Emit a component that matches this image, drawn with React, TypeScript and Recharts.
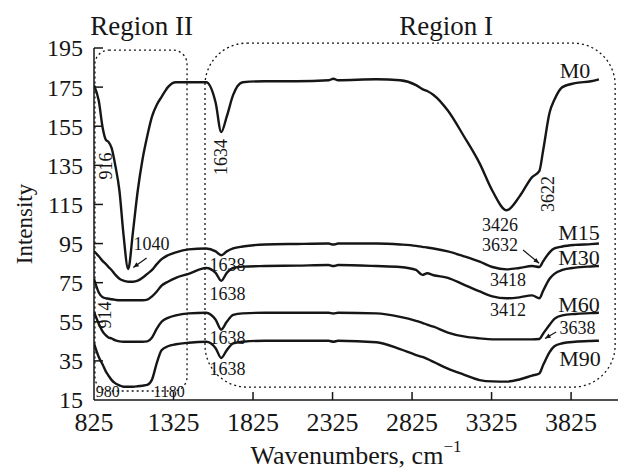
import React from 'react';
import {
  LineChart,
  Line,
  XAxis,
  YAxis,
  ReferenceArea,
  ReferenceDot,
  ReferenceLine,
  Label,
} from 'recharts';

const FONT = '"Liberation Serif", "Times New Roman", serif';
const INK = '#161616';

// wavenumber grid shared by all spectra (cm-1)
const wavenumbers = [
  825, 855, 880, 900, 916, 935, 960, 985, 1010, 1040, 1070, 1100, 1130, 1160, 1190, 1220, 1250,
  1290, 1340, 1420, 1530, 1590, 1625, 1660, 1700, 1760, 1900, 2100, 2300, 2330, 2360, 2600, 2750,
  2850, 2890, 2920, 2960, 3050, 3150, 3250, 3330, 3420, 3500, 3580, 3625, 3650, 3690, 3720, 3770,
  3850, 3950, 4000,
];

const m0 = [
  176, 168, 154, 148, 147, 144, 134.5, 122, 100, 82, 101, 122, 138, 150, 160, 166, 170,
  175, 177.5, 177.5, 177.5, 167, 152, 160, 171, 177.5, 178, 178, 178.5, 179.3, 178.5, 179, 178.5,
  176, 174, 173, 171, 163, 150, 136, 122, 112, 119, 129, 132, 143, 162, 168.5, 175,
  177, 178, 179,
];

const m15 = [
  91, 88.5, 86, 84.5, 83, 81.5, 79, 77, 76, 75.5, 75.5, 76, 77.5, 79.5, 81.5, 84.5, 87,
  89, 90.5, 92, 92.5, 91, 89, 91, 92.5, 93.5, 94.5, 94.8, 95, 94.5, 95, 95, 94.5,
  93.8, 93.3, 93, 92.5, 91, 88.5, 85.7, 83, 81.8, 82.5, 83.5, 83, 86, 90.5, 92.5, 93.5,
  94.3, 94.7, 95,
];

const m30 = [
  77, 70, 67.5, 67, 66.8, 66.5, 66.2, 66, 66, 66, 66, 66, 66, 66.3, 68, 70.5, 73.5,
  75.5, 77.5, 79.5, 82.5, 80, 76, 80, 82.5, 83.2, 83.5, 83.7, 84, 83.5, 84, 83.5, 83,
  81.5, 79, 79.8, 78.8, 77.5, 74, 70.5, 68, 67, 67.5, 68.5, 67, 71, 77, 79.5, 81.5,
  82.7, 83.3, 83.5,
];

const m60 = [
  60, 54, 50, 48, 47, 46.5, 45.5, 45, 44.8, 44.8, 44.8, 44.8, 44.8, 45, 47, 51.5, 55,
  57, 58.3, 59.3, 59.6, 56, 51, 55, 58.5, 59.3, 59.6, 59.6, 59.6, 59.2, 59.6, 59.3, 57.5,
  55.5, 54.5, 53.5, 52.5, 49.5, 47.5, 46.5, 46, 46, 46, 46, 46.2, 49, 53.5, 56.5, 58.3,
  59, 59.4, 59.6,
];

const m90 = [
  44, 37, 33, 29.5, 27.5, 25.3, 23.5, 22.5, 21.8, 21.8, 21.8, 22, 22.3, 22.7, 25.5, 34, 40.5,
  42.5, 43.5, 44.3, 44.8, 41.5, 36.5, 40.5, 44, 44.8, 45.3, 45.3, 45.3, 44.8, 45.3, 44.5, 41,
  38, 37, 36, 34.5, 31, 28, 25.2, 24.5, 24.4, 25.5, 27.5, 28.6, 33, 39.5, 42.5, 44,
  44.8, 45.2, 45.3,
];

const seriesNames = ['M0', 'M15', 'M30', 'M60', 'M90'];
const seriesValues = [m0, m15, m30, m60, m90];

const xTicks = [825, 1325, 1825, 2325, 2825, 3325, 3825];
const yTicks = [15, 35, 55, 75, 95, 115, 135, 155, 175, 195];

const chartData = wavenumbers.map((wn, i) => {
  const row: Record<string, number> = { wn };
  seriesNames.forEach((name, s) => {
    row[name] = seriesValues[s][i];
  });
  return row;
});

// text annotations, placed in data coordinates
const notes = [
  { text: 'Region II', wn: 1124, y: 206.5, size: 27 },
  { text: 'Region I', wn: 3040, y: 206.5, size: 27 },
  { text: 'M0', wn: 3850, y: 183.5, size: 22 },
  { text: 'M15', wn: 3875, y: 100.6, size: 22 },
  { text: 'M30', wn: 3875, y: 87.9, size: 22 },
  { text: 'M60', wn: 3875, y: 64.1, size: 22 },
  { text: 'M90', wn: 3881, y: 36.5, size: 22 },
  { text: '916', wn: 900, y: 134.6, size: 18, rotate: true },
  { text: '1634', wn: 1624, y: 139.2, size: 18, rotate: true },
  { text: '1040', wn: 1187, y: 94.8, size: 18 },
  { text: '1638', wn: 1665, y: 84.3, size: 18 },
  { text: '1638', wn: 1665, y: 69.2, size: 18 },
  { text: '1638', wn: 1665, y: 46.7, size: 18 },
  { text: '1638', wn: 1665, y: 30.8, size: 18 },
  { text: '914', wn: 894, y: 58.5, size: 18, rotate: true },
  { text: '980', wn: 912, y: 19.6, size: 16 },
  { text: '1180', wn: 1297, y: 19.6, size: 16 },
  { text: '3426', wn: 3378, y: 104.5, size: 18 },
  { text: '3622', wn: 3680, y: 120.3, size: 18, rotate: true },
  { text: '3632', wn: 3378, y: 94.2, size: 18 },
  { text: '3418', wn: 3429, y: 76.3, size: 18 },
  { text: '3412', wn: 3429, y: 61, size: 18 },
  { text: '3638', wn: 3866, y: 51.8, size: 18 },
];

const arrows = [
  { from: { x: 1156, y: 87.6 }, to: { x: 1072, y: 82.8 } },
  { from: { x: 3523, y: 91.7 }, to: { x: 3624, y: 84.9 } },
  { from: { x: 3731, y: 49.8 }, to: { x: 3661, y: 46.5 } },
];

const XTick = ({ x, y, payload }: any) => (
  <g>
    {payload.value !== 825 && (
      <line x1={x} y1={y} x2={x} y2={y - 8} stroke={INK} strokeWidth={1.5} />
    )}
    <text x={x} y={y + 31} textAnchor="middle" fontSize={26} fontFamily={FONT} fill={INK}>
      {payload.value}
    </text>
  </g>
);

const YTick = ({ x, y, payload }: any) => (
  <g>
    {payload.value !== 15 && (
      <line x1={x} y1={y} x2={x + 9} y2={y} stroke={INK} strokeWidth={1.5} />
    )}
    <text
      x={x - 11}
      y={y}
      dy="0.35em"
      textAnchor="end"
      fontSize={24}
      fontFamily={FONT}
      fill={INK}
    >
      {payload.value}
    </text>
  </g>
);

const DottedBox = ({ x, y, width, height, radius }: any) => (
  <rect
    x={x}
    y={y}
    width={width}
    height={height}
    rx={radius}
    ry={radius}
    fill="none"
    stroke={INK}
    strokeWidth={1.3}
    strokeDasharray="2 3"
  />
);

const NoteText = ({ cx, cy, text, size, rotate }: any) => (
  <text
    x={cx}
    y={cy}
    dy="0.35em"
    textAnchor="middle"
    fontSize={size}
    fontFamily={FONT}
    fill={INK}
    transform={rotate ? `rotate(-90 ${cx} ${cy})` : undefined}
  >
    {text}
  </text>
);

const Arrow = ({ x1, y1, x2, y2 }: any) => {
  const ang = Math.atan2(y2 - y1, x2 - x1);
  const len = 6;
  const spread = 0.4;
  const ax = x2 - len * Math.cos(ang - spread);
  const ay = y2 - len * Math.sin(ang - spread);
  const bx = x2 - len * Math.cos(ang + spread);
  const by = y2 - len * Math.sin(ang + spread);
  return (
    <g>
      <line x1={x1} y1={y1} x2={x2} y2={y2} stroke={INK} strokeWidth={1.2} />
      <polygon points={`${x2},${y2} ${ax},${ay} ${bx},${by}`} fill={INK} />
    </g>
  );
};

const XTitle = ({ viewBox }: any) => {
  const cx = viewBox && viewBox.width ? viewBox.x + viewBox.width / 2 : 356;
  return (
    <text x={cx} y={464} textAnchor="middle" fontSize={26} fontFamily={FONT} fill={INK}>
      Wavenumbers, cm
      <tspan fontSize={17} dy={-12}>
        −1
      </tspan>
    </text>
  );
};

const YTitle = ({ viewBox }: any) => {
  const cy = viewBox && viewBox.height ? viewBox.y + viewBox.height / 2 : 224;
  return (
    <text
      x={24}
      y={cy}
      dy="0.35em"
      textAnchor="middle"
      fontSize={23}
      fontFamily={FONT}
      fill={INK}
      transform={`rotate(-90 24 ${cy})`}
    >
      Intensity
    </text>
  );
};

export default function App() {
  return (
    <div style={{ position: 'absolute', left: 0, top: 0, width: 620, height: 475, background: '#fff' }}>
      <LineChart
        width={620}
        height={475}
        data={chartData}
        margin={{ top: 48, right: 2, bottom: 74, left: 93 }}
      >
        <XAxis
          type="number"
          dataKey="wn"
          domain={[825, 4120]}
          ticks={xTicks}
          interval={0}
          height={1}
          tickSize={0}
          tickMargin={0}
          tickLine={false}
          tick={<XTick />}
          axisLine={{ stroke: INK, strokeWidth: 1.5 }}
          allowDataOverflow
        >
          <Label content={<XTitle />} />
        </XAxis>
        <YAxis
          type="number"
          domain={[15, 195]}
          ticks={yTicks}
          interval={0}
          width={1}
          tickSize={0}
          tickMargin={0}
          tickLine={false}
          tick={<YTick />}
          axisLine={{ stroke: INK, strokeWidth: 1.5 }}
          allowDataOverflow
        >
          <Label content={<YTitle />} />
        </YAxis>

        <ReferenceArea
          x1={831}
          x2={1410}
          y1={19.6}
          y2={193.9}
          ifOverflow="visible"
          shape={(p: any) => <DottedBox {...p} radius={14} />}
        />
        <ReferenceArea
          x1={1523}
          x2={4102}
          y1={21.6}
          y2={197.5}
          ifOverflow="visible"
          shape={(p: any) => <DottedBox {...p} radius={42} />}
        />

        {seriesNames.map((name) => (
          <Line
            key={name}
            dataKey={name}
            name={name}
            type="monotone"
            stroke={INK}
            strokeWidth={2.4}
            dot={false}
            activeDot={false}
            isAnimationActive={false}
          />
        ))}

        {arrows.map((a, i) => (
          <ReferenceLine
            key={`arrow-${i}`}
            segment={[a.from, a.to]}
            ifOverflow="visible"
            shape={(p: any) => <Arrow {...p} />}
          />
        ))}

        {notes.map((n, i) => (
          <ReferenceDot
            key={`note-${i}`}
            x={n.wn}
            y={n.y}
            r={0}
            ifOverflow="visible"
            shape={(p: any) => (
              <NoteText cx={p.cx} cy={p.cy} text={n.text} size={n.size} rotate={n.rotate} />
            )}
          />
        ))}
      </LineChart>
    </div>
  );
}
